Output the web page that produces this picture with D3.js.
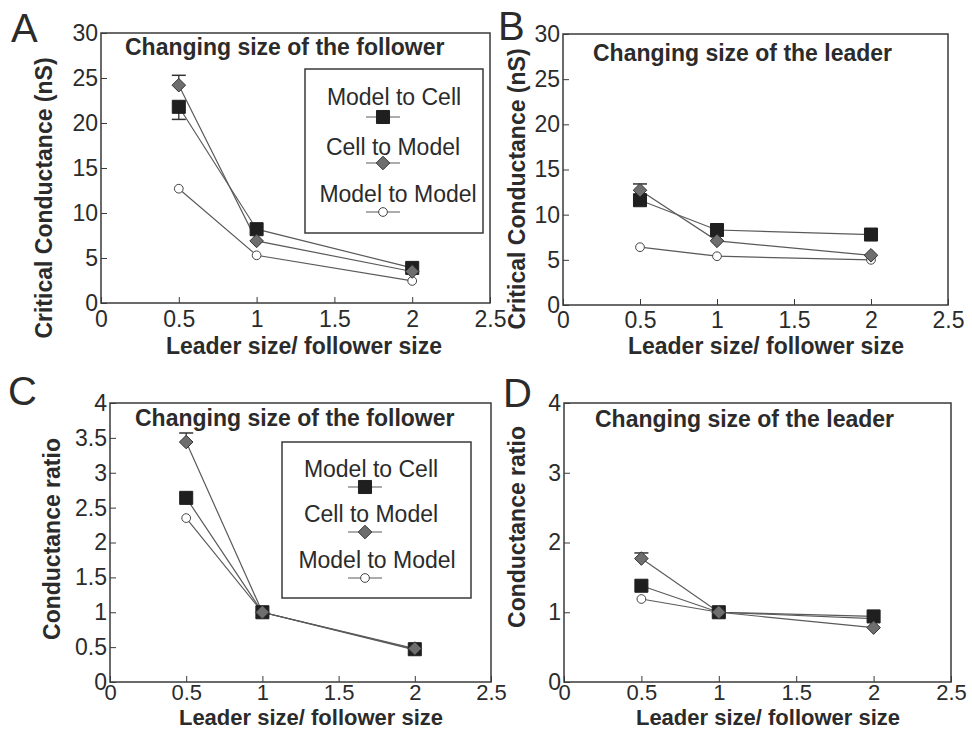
<!DOCTYPE html>
<html>
<head>
<meta charset="utf-8">
<script src="https://cdn.jsdelivr.net/npm/d3@7"></script>
<style>
  html, body { margin: 0; padding: 0; background: #fff; }
  svg { display: block; }
  text { font-family: "Liberation Sans", Arial, Helvetica, sans-serif; fill: #2b2b2b; }
</style>
</head>
<body>
<svg id="fig" width="972" height="730"></svg>
<script>
// ---- data ----
const sizeRatios = [0.5, 1, 2];
const seriesNames = ["Model to Cell", "Cell to Model", "Model to Model"];

// Critical conductance (nS), follower size changed
const followerModelToCell = [21.8, 8.2, 3.9];
const followerCellToModel = [24.2, 6.9, 3.5];
const followerModelToModel = [12.7, 5.3, 2.45];
const followerModelToCellErr = [1.4, 0, 0];
const followerCellToModelErr = [1.1, 0, 0];

// Critical conductance (nS), leader size changed
const leaderModelToCell = [11.6, 8.3, 7.8];
const leaderCellToModel = [12.7, 7.1, 5.5];
const leaderModelToModel = [6.4, 5.4, 5.0];
const leaderCellToModelErr = [0.7, 0, 0];

// Conductance ratio, follower size changed
const ratioFollowerModelToCell = [2.64, 1.0, 0.47];
const ratioFollowerCellToModel = [3.44, 1.0, 0.48];
const ratioFollowerModelToModel = [2.35, 1.0, 0.46];
const ratioFollowerCellToModelErr = [0.13, 0, 0];

// Conductance ratio, leader size changed
const ratioLeaderModelToCell = [1.38, 1.0, 0.94];
const ratioLeaderCellToModel = [1.77, 1.0, 0.78];
const ratioLeaderModelToModel = [1.19, 1.0, 0.91];
const ratioLeaderCellToModelErr = [0.08, 0, 0];

// tick labels
const xTicks = [0, 0.5, 1, 1.5, 2, 2.5];
const yTicksConductance = [0, 5, 10, 15, 20, 25, 30];
const yTicksRatioFine = [0, 0.5, 1, 1.5, 2, 2.5, 3, 3.5, 4];
const yTicksRatioCoarse = [0, 1, 2, 3, 4];

// ---- panel layout ----
const panels = [
  { letter: "A", box: [101, 33, 490, 303], yMax: 30, yTicks: yTicksConductance,
    title: "Changing size of the follower", titleX: 125, titleY: 55,
    yLabel: "Critical Conductance (nS)", yLabelX: 52, yLabelY: 198,
    xLabelX: 304, xLabelY: 354, xLabelSize: 23, tickBaseline: 24, xTickSize: 23,
    letterX: 11, letterY: 42,
    series: [followerModelToCell, followerCellToModel, followerModelToModel],
    errs: [followerModelToCellErr, followerCellToModelErr, null],
    legend: { box: [305, 69, 483, 233], rows: [[394, 105, 383, 117], [393, 155, 383, 163], [398, 202, 383, 212]] } },
  { letter: "B", box: [563, 34, 948, 305], yMax: 30, yTicks: yTicksConductance,
    title: "Changing size of the leader", titleX: 593, titleY: 61,
    yLabel: "Critical Conductance (nS)", yLabelX: 525, yLabelY: 189,
    xLabelX: 766, xLabelY: 354, xLabelSize: 23, tickBaseline: 23, xTickSize: 23,
    letterX: 498, letterY: 40,
    series: [leaderModelToCell, leaderCellToModel, leaderModelToModel],
    errs: [null, leaderCellToModelErr, null] },
  { letter: "C", box: [110, 403, 491, 682], yMax: 4, yTicks: yTicksRatioFine,
    title: "Changing size of the follower", titleX: 135, titleY: 426,
    yLabel: "Conductance ratio", yLabelX: 60, yLabelY: 539,
    xLabelX: 311, xLabelY: 725, xLabelSize: 22, tickBaseline: 18, xTickSize: 22,
    letterX: 8, letterY: 405,
    series: [ratioFollowerModelToCell, ratioFollowerCellToModel, ratioFollowerModelToModel],
    errs: [null, ratioFollowerCellToModelErr, null],
    legend: { box: [282, 442, 471, 598], rows: [[371, 477, 365, 487], [371, 522, 365, 532], [377, 568, 365, 578]] } },
  { letter: "D", box: [564, 403, 951, 682], yMax: 4, yTicks: yTicksRatioCoarse,
    title: "Changing size of the leader", titleX: 595, titleY: 427,
    yLabel: "Conductance ratio", yLabelX: 525, yLabelY: 527,
    xLabelX: 768, xLabelY: 725, xLabelSize: 22, tickBaseline: 18, xTickSize: 22,
    letterX: 503, letterY: 407,
    series: [ratioLeaderModelToCell, ratioLeaderCellToModel, ratioLeaderModelToModel],
    errs: [null, ratioLeaderCellToModelErr, null] }
];

// ---- marker styles ----
const lineColor = "#5a5a5a";
const frameColor = "#3a3a3a";
// square rotated by 45 degrees (equal diagonals)
const symbolRhomb = {
  draw(ctx, size) {
    const r = Math.sqrt(size / 2);
    ctx.moveTo(0, -r); ctx.lineTo(r, 0); ctx.lineTo(0, r); ctx.lineTo(-r, 0); ctx.closePath();
  }
};
const markerShapes = [
  { type: d3.symbolSquare, size: 170, fill: "#1f1f1f", stroke: "#1f1f1f" },
  { type: symbolRhomb, size: 92, fill: "#6e6e6e", stroke: "#333" },
  { type: d3.symbolCircle, size: 60, fill: "#fff", stroke: "#444" }
];
// circles sit under squares, diamonds on top
const drawOrder = [2, 0, 1];
// one-sided error bars: squares point down, diamonds up
const errDirection = [-1, 1, 1];

const svg = d3.select("#fig");

function drawMarker(g, i, cx, cy) {
  const s = markerShapes[i];
  g.append("path")
    .attr("d", d3.symbol().type(s.type).size(s.size)())
    .attr("transform", `translate(${cx},${cy})`)
    .attr("fill", s.fill)
    .attr("stroke", s.stroke)
    .attr("stroke-width", 1);
}

panels.forEach(p => {
  const [x0, y0, x1, y1] = p.box;
  const x = d3.scaleLinear().domain([0, 2.5]).range([x0, x1]);
  const y = d3.scaleLinear().domain([0, p.yMax]).range([y1, y0]);
  const g = svg.append("g");

  // axes with inward ticks
  const xAxis = d3.axisBottom(x).tickValues(xTicks).tickFormat(d => String(d))
    .tickSizeInner(-6).tickSizeOuter(0).tickPadding(p.tickBaseline - 0.71 * p.xTickSize);
  const gx = g.append("g").attr("transform", `translate(0,${y1})`).call(xAxis);
  const yAxis = d3.axisLeft(y).tickValues(p.yTicks).tickFormat(d => String(d))
    .tickSizeInner(-6).tickSizeOuter(0).tickPadding(3);
  const gy = g.append("g").attr("transform", `translate(${x0},0)`).call(yAxis);
  [gx, gy].forEach(a => {
    a.select(".domain").remove();
    a.selectAll(".tick line").attr("stroke", frameColor).attr("stroke-width", 1);
    a.selectAll(".tick text").attr("font-size", 23)
      .attr("font-family", '"Liberation Sans", Arial, sans-serif').attr("fill", "#2b2b2b");
  });
  gx.selectAll(".tick text").attr("font-size", p.xTickSize);

  // plot frame
  g.append("rect").attr("x", x0).attr("y", y0).attr("width", x1 - x0).attr("height", y1 - y0)
    .attr("fill", "none").attr("stroke", frameColor).attr("stroke-width", 1.5);

  // panel letter, title, axis titles
  g.append("text").attr("x", p.letterX).attr("y", p.letterY).attr("font-size", 40).text(p.letter);
  g.append("text").attr("x", p.titleX).attr("y", p.titleY).attr("font-size", 23)
    .attr("font-weight", "bold").text(p.title);
  g.append("text").attr("x", p.xLabelX).attr("y", p.xLabelY).attr("font-size", p.xLabelSize)
    .attr("font-weight", "bold").attr("text-anchor", "middle").text("Leader size/ follower size");
  g.append("text").attr("transform", `translate(${p.yLabelX},${p.yLabelY}) rotate(-90)`)
    .attr("font-size", 23).attr("font-weight", "bold").attr("text-anchor", "middle").text(p.yLabel);

  // connecting lines
  const line = d3.line().x((d, k) => x(sizeRatios[k])).y(d => y(d));
  p.series.forEach(vals => {
    g.append("path").attr("d", line(vals)).attr("fill", "none")
      .attr("stroke", lineColor).attr("stroke-width", 1.2);
  });

  // error bars
  p.errs.forEach((errs, i) => {
    if (!errs) return;
    errs.forEach((e, k) => {
      if (!e) return;
      const cx = x(sizeRatios[k]);
      const v = p.series[i][k];
      const yEnd = y(v + errDirection[i] * e);
      g.append("line").attr("x1", cx).attr("x2", cx).attr("y1", y(v)).attr("y2", yEnd)
        .attr("stroke", "#333").attr("stroke-width", 1.3);
      g.append("line").attr("x1", cx - 7).attr("x2", cx + 7).attr("y1", yEnd).attr("y2", yEnd)
        .attr("stroke", "#333").attr("stroke-width", 1.5);
    });
  });

  // markers
  drawOrder.forEach(i => {
    p.series[i].forEach((v, k) => drawMarker(g, i, x(sizeRatios[k]), y(v)));
  });

  // legend
  if (p.legend) {
    const [lx0, ly0, lx1, ly1] = p.legend.box;
    g.append("rect").attr("x", lx0).attr("y", ly0).attr("width", lx1 - lx0).attr("height", ly1 - ly0)
      .attr("fill", "#fff").attr("stroke", frameColor).attr("stroke-width", 1.5);
    p.legend.rows.forEach(([tx, ty, sx, sy], i) => {
      g.append("text").attr("x", tx).attr("y", ty).attr("font-size", 23)
        .attr("text-anchor", "middle").text(seriesNames[i]);
      g.append("line").attr("x1", sx - 17).attr("x2", sx + 17).attr("y1", sy).attr("y2", sy)
        .attr("stroke", lineColor).attr("stroke-width", 1.2);
      drawMarker(g, i, sx, sy);
    });
  }
});
</script>
</body>
</html>
